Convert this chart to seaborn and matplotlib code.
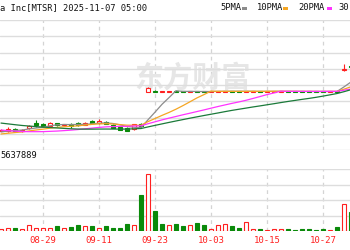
import numpy as np
import pandas as pd
import matplotlib
matplotlib.use("Agg")
import matplotlib.pyplot as plt
import seaborn as sns
from matplotlib.patches import Rectangle

# ---------------- data ----------------
dates = ["08-21", "08-22", "08-25", "08-26", "08-27", "08-28", "08-29",
         "09-02", "09-03", "09-04", "09-05", "09-08", "09-09", "09-10", "09-11",
         "09-12", "09-15", "09-16", "09-17", "09-18", "09-19", "09-22", "09-23",
         "09-24", "09-25", "09-26", "09-29", "09-30",
         "10-01", "10-02", "10-03", "10-06", "10-07", "10-08", "10-09", "10-10",
         "10-13", "10-14", "10-15", "10-16", "10-17", "10-20", "10-21", "10-22",
         "10-23", "10-24", "10-27", "10-28", "10-29", "10-30", "10-31"]

opens = [34.3, 34.2, 35.2, 34.0, 35.4, 37.6, 37.2, 36.3, 37.6, 36.7, 37.4, 37.8, 36.9,
         38.5, 37.6, 38.2, 36.9, 35.9, 35.4, 35.0, 37.4, 51.2, 51.6, 51.0, 51.1, 51.4,
         51.3, 51.0, 51.4, 51.3, 51.1, 51.1, 51.2, 51.5, 51.3, 51.0, 51.2, 51.3, 51.2,
         51.2, 51.2, 51.3, 51.3, 51.3, 51.3, 51.3, 51.3, 51.2, 51.4, 60.6, 62.0]
highs = [35.0, 35.9, 35.4, 35.0, 36.9, 38.9, 37.6, 38.0, 37.8, 37.4, 37.6, 38.0, 38.2,
         38.9, 39.3, 38.5, 37.2, 36.1, 35.9, 37.4, 37.8, 53.0, 51.8, 51.5, 51.6, 51.5,
         51.4, 51.4, 51.5, 51.4, 51.4, 51.5, 51.6, 51.6, 51.4, 51.5, 51.4, 51.4, 51.4,
         51.4, 51.4, 51.4, 51.4, 51.4, 51.4, 51.4, 51.4, 51.4, 51.5, 63.0, 62.4]
lows = [34.0, 33.7, 34.2, 33.7, 35.2, 35.9, 35.9, 36.1, 36.5, 36.5, 35.4, 36.5, 36.7,
        37.4, 37.4, 37.0, 35.4, 34.6, 34.2, 34.8, 35.9, 51.0, 51.0, 50.9, 51.0, 51.0,
        51.0, 50.9, 51.0, 51.0, 51.0, 51.0, 51.1, 51.1, 51.1, 51.0, 51.1, 51.1, 51.1,
        51.1, 51.1, 51.1, 51.1, 51.1, 51.1, 51.1, 51.1, 51.1, 51.1, 60.2, 61.5]
closes = [34.7, 35.0, 34.4, 34.8, 36.5, 36.7, 36.5, 37.6, 36.9, 37.2, 36.5, 36.9, 37.8,
          37.8, 38.7, 37.2, 35.6, 34.8, 34.4, 37.0, 36.3, 52.6, 51.2, 51.3, 51.4, 51.2,
          51.1, 51.3, 51.1, 51.2, 51.3, 51.4, 51.5, 51.2, 51.2, 51.3, 51.3, 51.2, 51.3,
          51.3, 51.3, 51.2, 51.2, 51.2, 51.2, 51.2, 51.2, 51.3, 51.2, 61.0, 61.8]
# closes of the sessions before the visible window (feed the moving averages)
prior_closes = [45.5, 45.0, 44.6, 44.0, 43.8, 43.2, 43.0, 42.6, 42.5, 41.8,
                40.2, 39.0, 38.1, 37.5, 36.8, 36.0, 35.2, 34.5, 33.3, 32.4,
                31.8, 31.5, 32.0, 32.3, 32.6, 33.0, 33.2, 33.8, 34.1]
volumes = [0.7, 1.3, 1.1, 0.9, 2.3, 1.2, 1.1, 1.3, 1.9, 1.2, 1.5, 2.5, 1.9, 1.9, 1.1,
           1.9, 1.3, 1.3, 2.9, 2.3, 14.3, 22.9, 7.9, 2.9, 2.5, 2.9, 1.9, 2.5, 3.3, 2.5,
           0.9, 2.5, 2.9, 2.0, 1.1, 3.6, 0.9, 0.9, 0.4, 0.7, 0.9, 0.7, 0.5, 0.7, 0.7,
           0.5, 0.7, 0.4, 1.5, 10.9, 7.6]
volume_up = [1, 1, 0, 1, 1, 1, 1, 1, 0, 1, 0, 0, 1, 0, 1, 0, 0, 0, 0, 1, 0, 1, 0,
             0, 1, 0, 0, 1, 0, 0, 1, 1, 1, 0, 0, 1, 1, 0, 1, 1, 1, 0, 0, 0, 0, 0, 0,
             1, 0, 1, 0]
tick_dates = ["08-29", "09-11", "09-23", "10-03", "10-15", "10-27"]
ma_windows = [5, 10, 20, 30]
ma_labels = ["5PMA", "10PMA", "20PMA", "30"]
title_text = "a Inc[MTSR] 2025-11-07 05:00"
volume_text = "5637889"
watermark_text = "东方财富"

# ---------------- styling ----------------
RED = "#ff2020"
GREEN = "#0a8a0a"
ma_colors = ["#8c8c8c", "#f5a623", "#ff33ff", "#1b7a3a"]
GRID = "#dddddd"

sns.set_theme(style="white")
plt.rcParams["font.family"] = ["DejaVu Sans Mono", "Noto Sans CJK SC"]

fig = plt.figure(figsize=(3.5, 2.5), dpi=100)
W, H = 350.0, 250.0
ax = fig.add_axes([0, 1 - 150 / H, 1, 130 / H])
axv = fig.add_axes([0, 1 - 231 / H, 1, 62 / H])

n = len(dates)
xs = np.arange(n)
all_close = pd.Series(prior_closes + closes, dtype=float)
df = pd.DataFrame({"x": xs, "date": dates, "open": opens, "high": highs,
                   "low": lows, "close": closes, "vol": volumes, "vup": volume_up})
for w, lab in zip(ma_windows, ma_labels):
    df[lab] = all_close.rolling(w).mean().iloc[len(prior_closes):].values

xmin, xmax = -43 / 7 + 6, 6 + 307 / 7

# ---- candles ----
up = df["close"] >= df["open"]
body_lo = np.minimum(df["open"], df["close"])
body_h = np.maximum(np.abs(df["close"] - df["open"]), 0.12)
ccol = np.where(up, RED, GREEN)
ax.vlines(df["x"], df["low"], df["high"], colors=ccol, linewidth=0.8, zorder=2)
ax.bar(df["x"], body_h, bottom=body_lo, width=0.68,
       color=np.where(up, "white", GREEN), edgecolor=ccol, linewidth=0.8, zorder=3)

# ---- moving averages ----
long = df.melt(id_vars="x", value_vars=ma_labels, var_name="ma", value_name="v")
sns.lineplot(data=long, x="x", y="v", hue="ma", hue_order=ma_labels,
             palette=dict(zip(ma_labels, ma_colors)), ax=ax, legend=False,
             linewidth=0.9, zorder=4, estimator=None, sort=True)

# ---- volume ----
vup = df["vup"] == 1
vcol = np.where(vup, RED, GREEN)
axv.bar(df["x"], df["vol"], width=0.62, color=np.where(vup, "white", GREEN),
        edgecolor=vcol, linewidth=0.8, zorder=3)

# ---- axes cosmetics ----
tick_pos = [dates.index(d) for d in tick_dates]
for a in (ax, axv):
    a.set_xlim(xmin, xmax)
    a.set_xticks(tick_pos)
    a.grid(False)
    a.yaxis.grid(True, color=GRID, linewidth=1.0, zorder=0)
    for p in tick_pos:
        a.axvline(p, color="#d4d4d4", linewidth=0.9, linestyle=(0, (3, 3)), zorder=0)
    for s in a.spines.values():
        s.set_visible(False)
    a.set_xlabel("")
    a.set_ylabel("")
    a.set_facecolor("none")
ax.set_ylim(26, 82)
ax.set_yticks(np.arange(26, 83, 7))
ax.tick_params(axis="both", length=0, labelleft=False, labelbottom=False)
vtop = 24.8
axv.set_ylim(0, vtop)
axv.set_yticks(np.linspace(0, vtop, 5))
axv.tick_params(axis="y", length=0, labelleft=False)
axv.set_xticklabels(tick_dates)
axv.tick_params(axis="x", length=0, pad=3.5, labelsize=6.5, labelcolor=RED)

# ---- texts ----
fig.text(0.5 / W, 1 - 8 / H, title_text, ha="left", va="center", fontsize=6.3, color="#111111")
fig.text(0.5 / W, 1 - 156 / H, volume_text, ha="left", va="center", fontsize=6.3, color="#111111")

leg_x = [220, 257, 298, 338]
sw_x = [242, 283, 327, 366]
for lab, col, tx, sx in zip(ma_labels, ma_colors, leg_x, sw_x):
    fig.text(tx / W, 1 - 8 / H, lab, ha="left", va="center", fontsize=6.3, color="#111111")
    fig.patches.append(Rectangle((sx / W, 1 - 10 / H), 5 / W, 3 / H, transform=fig.transFigure,
                                 facecolor=col, edgecolor="none", figure=fig))

ax.text(192 / W, 1 - 78 / H, watermark_text, transform=fig.transFigure, ha="center",
        va="center", fontsize=21, color="#e6e6e6", fontweight="bold",
        family="Noto Sans CJK SC", zorder=0.5)

fig.savefig("out.png", dpi=100)
